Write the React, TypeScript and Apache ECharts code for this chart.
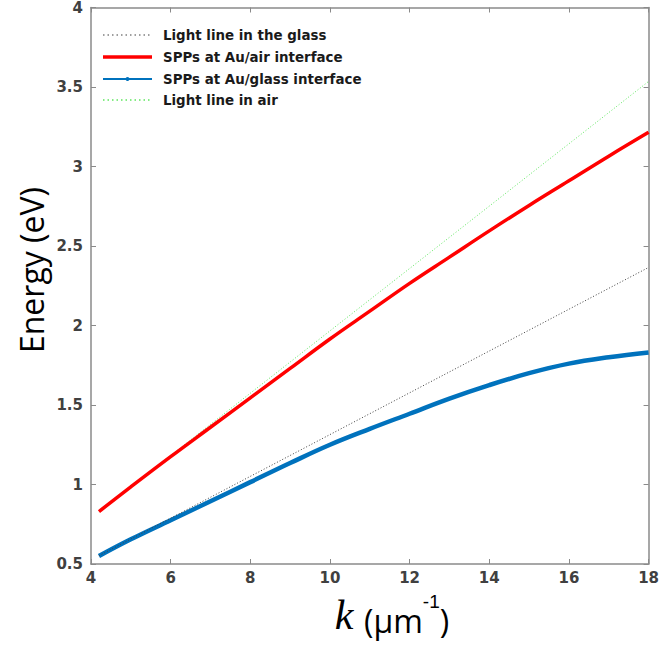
import React, { useEffect, useRef } from "react";
import * as echarts from "echarts";

const kValues = [4.2, 5, 6, 7, 8, 9, 10, 11, 12, 13, 14, 15, 16, 17, 18];
const sppAirValues = [0.83, 0.985, 1.175, 1.36, 1.545, 1.73, 1.915, 2.09, 2.265, 2.43, 2.595, 2.755, 2.91, 3.065, 3.215];
const sppGlassValues = [0.55, 0.655, 0.775, 0.895, 1.015, 1.135, 1.25, 1.35, 1.445, 1.54, 1.625, 1.7, 1.76, 1.8, 1.83];
const lightGlassK = [4.2, 18];
const lightGlassValues = [0.552, 2.365];
const lightAirK = [4.2, 18];
const lightAirValues = [0.829, 3.535];
const seriesNames = [
  "Light line in the glass",
  "SPPs at Au/air interface",
  "SPPs at Au/glass interface",
  "Light line in air",
];
const seriesColors = ["#404040", "#ff0000", "#0072bd", "#5ee65e"];

const zip = (xs: number[], ys: number[]) => xs.map((x, i) => [x, ys[i]]);

export default function App() {
  const ref = useRef<HTMLDivElement>(null);
  useEffect(() => {
    document.body.style.margin = "0";
    const chart = echarts.init(ref.current!, null, { renderer: "svg" });
    const axisColor = "#8a8a8a";
    const labelStyle = {
      color: "#404040",
      fontWeight: "bold" as const,
      fontSize: 15,
      fontFamily: "DejaVu Sans, sans-serif",
    };
    const xCommon = {
      type: "value" as const,
      min: 4,
      max: 18,
      interval: 2,
      splitLine: { show: false },
      axisLine: { show: true, lineStyle: { color: axisColor, width: 1.5 } },
      axisTick: { show: true, inside: true, length: 5, lineStyle: { color: axisColor, width: 1 } },
    };
    const yCommon = {
      type: "value" as const,
      min: 0.5,
      max: 4,
      interval: 0.5,
      splitLine: { show: false },
      axisLine: { show: true, lineStyle: { color: axisColor, width: 1.5 } },
      axisTick: { show: true, inside: true, length: 5, lineStyle: { color: axisColor, width: 1 } },
    };

    const legendRowsY = [35, 57, 79, 100];
    const lx0 = 103;
    const lx1 = 152;
    const legendGraphics: any[] = [];
    const sampleStyles = [
      { stroke: seriesColors[0], lineWidth: 1.2, lineDash: [1.5, 3] },
      { stroke: seriesColors[1], lineWidth: 3.5 },
      { stroke: seriesColors[2], lineWidth: 1.8 },
      { stroke: seriesColors[3], lineWidth: 1.5, lineDash: [1.5, 3] },
    ];
    seriesNames.forEach((name, i) => {
      const y = legendRowsY[i];
      legendGraphics.push({
        type: "line",
        shape: { x1: lx0, y1: y, x2: lx1, y2: y },
        style: sampleStyles[i],
        z: 10,
      });
      legendGraphics.push({
        type: "text",
        x: 163,
        y,
        style: {
          text: name,
          fill: "#1a1a1a",
          font: "bold 13.4px 'DejaVu Sans', sans-serif",
          verticalAlign: "middle",
          align: "left",
        },
        z: 10,
      });
    });
    legendGraphics.push({
      type: "circle",
      shape: { cx: (lx0 + lx1) / 2, cy: legendRowsY[2], r: 2 },
      style: { fill: seriesColors[2] },
      z: 11,
    });

    chart.setOption({
      animation: false,
      backgroundColor: "#ffffff",
      grid: { left: 91, right: 4, top: 6, bottom: 82, containLabel: false },
      xAxis: [
        { ...xCommon, position: "bottom", axisLabel: { ...labelStyle, margin: 6 } },
        { ...xCommon, position: "top", axisLabel: { show: false } },
      ],
      yAxis: [
        { ...yCommon, position: "left", axisLabel: { ...labelStyle, margin: 8 } },
        { ...yCommon, position: "right", axisLabel: { show: false } },
      ],
      series: [
        {
          name: seriesNames[0],
          type: "line",
          data: zip(lightGlassK, lightGlassValues),
          symbol: "none",
          lineStyle: { color: seriesColors[0], width: 1, type: [1, 2] },
          z: 3,
        },
        {
          name: seriesNames[1],
          type: "line",
          data: zip(kValues, sppAirValues),
          smooth: 0.4,
          symbol: "none",
          lineStyle: { color: seriesColors[1], width: 3.5 },
          z: 4,
        },
        {
          name: seriesNames[2],
          type: "line",
          data: zip(kValues, sppGlassValues),
          smooth: 0.4,
          symbol: "none",
          lineStyle: { color: seriesColors[2], width: 4.5 },
          z: 2,
        },
        {
          name: seriesNames[3],
          type: "line",
          data: zip(lightAirK, lightAirValues),
          symbol: "none",
          lineStyle: { color: seriesColors[3], width: 1, type: [1, 2] },
          z: 3,
        },
      ],
      graphic: [
        ...legendGraphics,
        {
          type: "text",
          x: 31,
          y: 270,
          rotation: Math.PI / 2,
          style: {
            text: "Energy (eV)",
            fill: "#000",
            font: "32px 'Open Sans', 'Liberation Sans', sans-serif",
            align: "center",
            verticalAlign: "middle",
          },
        },
        {
          type: "text",
          x: 392,
          y: 614,
          style: {
            text: "{k|k }{n|(µm}{s|-1}{n|)}",
            align: "center",
            verticalAlign: "middle",
            rich: {
              k: { fontFamily: "Liberation Serif, serif", fontStyle: "italic", fontSize: 42, fill: "#000", lineHeight: 44, verticalAlign: "bottom" },
              n: { fontFamily: "'Open Sans', 'Liberation Sans', sans-serif", fontSize: 32, fill: "#000", lineHeight: 44, verticalAlign: "bottom" },
              s: { fontFamily: "'Liberation Sans', sans-serif", fontSize: 19, fill: "#000", lineHeight: 44, verticalAlign: "top" },
            },
          },
        },
      ],
    });
    return () => chart.dispose();
  }, []);
  return <div ref={ref} style={{ width: 662, height: 646 }} />;
}
